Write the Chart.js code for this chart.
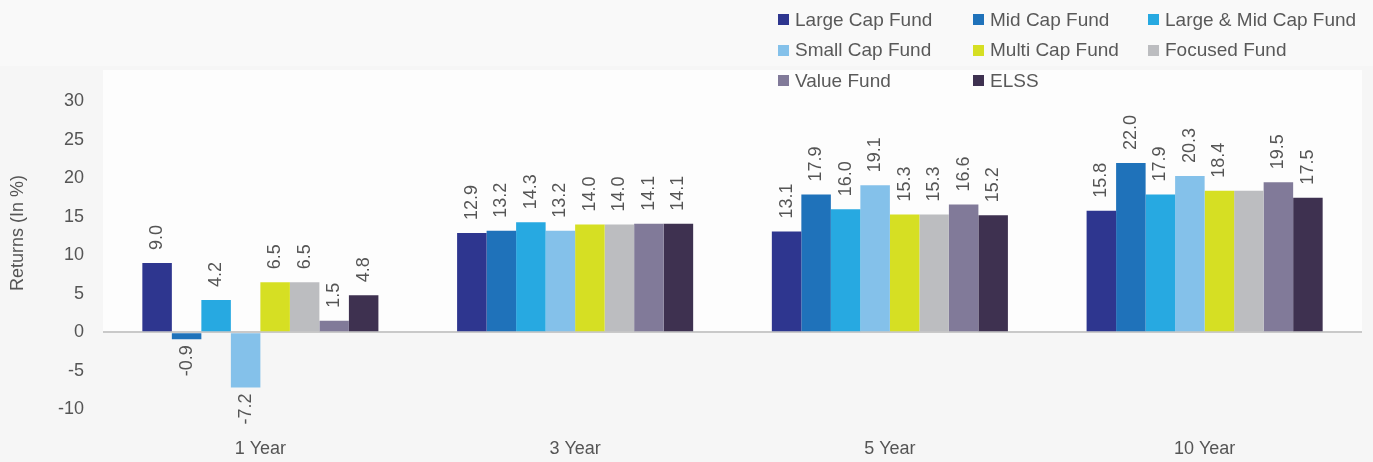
<!DOCTYPE html>
<html><head><meta charset="utf-8">
<script src="https://cdn.jsdelivr.net/npm/chart.js@4/dist/chart.umd.min.js"></script>
<style>
html,body{margin:0;padding:0;background:#f6f6f6;}
#wrap{position:relative;width:1373px;height:462px;overflow:hidden;}
#c{position:absolute;left:0;top:0;}
#legend{position:absolute;left:0;top:0;width:1373px;height:100px;font-family:"Liberation Sans",Arial,sans-serif;font-size:19px;color:#595959;}
.li{position:absolute;white-space:nowrap;height:22px;line-height:22px;}
.li .bx{position:absolute;left:0;top:5.5px;width:11px;height:11px;}
.li .tx{position:absolute;left:17px;top:0;}
</style></head><body>
<div id="wrap"><canvas id="c" width="1373" height="462"></canvas><div id="legend"></div></div>
<script>
// ---- data ----
const categories = ['1 Year', '3 Year', '5 Year', '10 Year'];
const seriesNames = ['Large Cap Fund', 'Mid Cap Fund', 'Large & Mid Cap Fund', 'Small Cap Fund', 'Multi Cap Fund', 'Focused Fund', 'Value Fund', 'ELSS'];
const largeCap    = [9.0, 12.9, 13.1, 15.8];
const midCap      = [-0.9, 13.2, 17.9, 22.0];
const largeMidCap = [4.2, 14.3, 16.0, 17.9];
const smallCap    = [-7.2, 13.2, 19.1, 20.3];
const multiCap    = [6.5, 14.0, 15.3, 18.4];
const focusedFund = [6.5, 14.0, 15.3, 18.4];
const valueFund   = [1.5, 14.1, 16.6, 19.5];
const elss        = [4.8, 14.1, 15.2, 17.5];
const yTickValues = [-10, -5, 0, 5, 10, 15, 20, 25, 30];
const yAxisTitle = 'Returns (In %)';
// value labels not shown in the source: [series, category]
const unlabeledPoints = [['Focused Fund', '10 Year']];

// ---- styles ----
const seriesValues = [largeCap, midCap, largeMidCap, smallCap, multiCap, focusedFund, valueFund, elss];
const seriesColors = ['#2e368f', '#1f72ba', '#27a9e1', '#84c1ea', '#d6df23', '#bcbdc0', '#817a99', '#3e3150'];
const textColor = '#555555';
const fontFamily = '"Liberation Sans", Arial, sans-serif';

// ---- legend (HTML) ----
const legendCols = [778, 973, 1148];
const legendRows = [19.5, 50, 80.5];
const legendEl = document.getElementById('legend');
seriesNames.forEach((name, i) => {
  const d = document.createElement('div');
  d.className = 'li';
  d.style.left = legendCols[i % 3] + 'px';
  d.style.top = (legendRows[Math.floor(i / 3)] - 11) + 'px';
  const b = document.createElement('span'); b.className = 'bx'; b.style.background = seriesColors[i];
  const t = document.createElement('span'); t.className = 'tx'; t.textContent = name;
  d.appendChild(b); d.appendChild(t); legendEl.appendChild(d);
});

// ---- plugins ----
const backgroundPlugin = {
  id: 'bgPanels',
  beforeDraw(chart) {
    const ctx = chart.ctx, a = chart.chartArea;
    const zeroY = chart.scales.y.getPixelForValue(0);
    ctx.save();
    ctx.fillStyle = '#f6f6f6';
    ctx.fillRect(0, 0, chart.width, chart.height);
    ctx.fillStyle = '#f9f9f9';
    ctx.fillRect(0, 0, chart.width, 66);
    ctx.fillStyle = '#fdfdfd';
    ctx.fillRect(a.left, 70, a.right - a.left, zeroY - 70);
    ctx.restore();
  }
};

const valueLabelPlugin = {
  id: 'valueLabels',
  afterDatasetsDraw(chart) {
    const ctx = chart.ctx;
    ctx.save();
    ctx.font = '18px ' + fontFamily;
    ctx.fillStyle = textColor;
    ctx.textBaseline = 'middle';
    chart.data.datasets.forEach((ds, i) => {
      const meta = chart.getDatasetMeta(i);
      meta.data.forEach((bar, j) => {
        const hidden = unlabeledPoints.some(p => p[0] === ds.label && p[1] === chart.data.labels[j]);
        if (hidden) return;
        const v = ds.data[j];
        ctx.save();
        if (v >= 0) {
          ctx.translate(bar.x, bar.y - 13);
          ctx.rotate(-Math.PI / 2);
          ctx.textAlign = 'left';
        } else {
          ctx.translate(bar.x, bar.y + 6);
          ctx.rotate(-Math.PI / 2);
          ctx.textAlign = 'right';
        }
        ctx.fillText(v.toFixed(1), 0, 0);
        ctx.restore();
      });
    });
    ctx.restore();
  }
};

const yTitlePlugin = {
  id: 'yTitle',
  afterDraw(chart) {
    const ctx = chart.ctx;
    ctx.save();
    ctx.font = '18px ' + fontFamily;
    ctx.fillStyle = textColor;
    ctx.textAlign = 'center';
    ctx.textBaseline = 'middle';
    ctx.translate(18, chart.height / 2 + 2);
    ctx.rotate(-Math.PI / 2);
    ctx.fillText(yAxisTitle, 0, 0);
    ctx.restore();
  }
};

// ---- chart ----
new Chart(document.getElementById('c'), {
  type: 'bar',
  data: {
    labels: categories,
    datasets: seriesNames.map((name, i) => ({
      label: name,
      data: seriesValues[i],
      backgroundColor: seriesColors[i],
      borderWidth: 0,
      barPercentage: 1.0,
      categoryPercentage: 0.75
    }))
  },
  options: {
    responsive: false,
    animation: false,
    devicePixelRatio: 1,
    layout: { padding: { top: 101.5, bottom: 0, left: 0, right: 11 } },
    plugins: { legend: { display: false }, tooltip: { enabled: false } },
    scales: {
      x: {
        afterFit(scale) { scale.height = 29.5; },
        grid: { display: false, drawTicks: false },
        border: { display: false },
        ticks: { color: textColor, font: { family: fontFamily, size: 18 }, padding: 6 }
      },
      y: {
        min: -13,
        max: 30,
        afterBuildTicks(scale) { scale.ticks = yTickValues.map(v => ({ value: v })); },
        afterFit(scale) { scale.width = 103; },
        grid: {
          drawTicks: false,
          color: c => (c.tick && c.tick.value === 0) ? '#c9c9c9' : 'rgba(0,0,0,0)',
          lineWidth: c => (c.tick && c.tick.value === 0) ? 2 : 0
        },
        border: { display: false },
        ticks: { color: textColor, font: { family: fontFamily, size: 18 }, padding: 19 }
      }
    }
  },
  plugins: [backgroundPlugin, valueLabelPlugin, yTitlePlugin]
});
</script>
</body></html>
